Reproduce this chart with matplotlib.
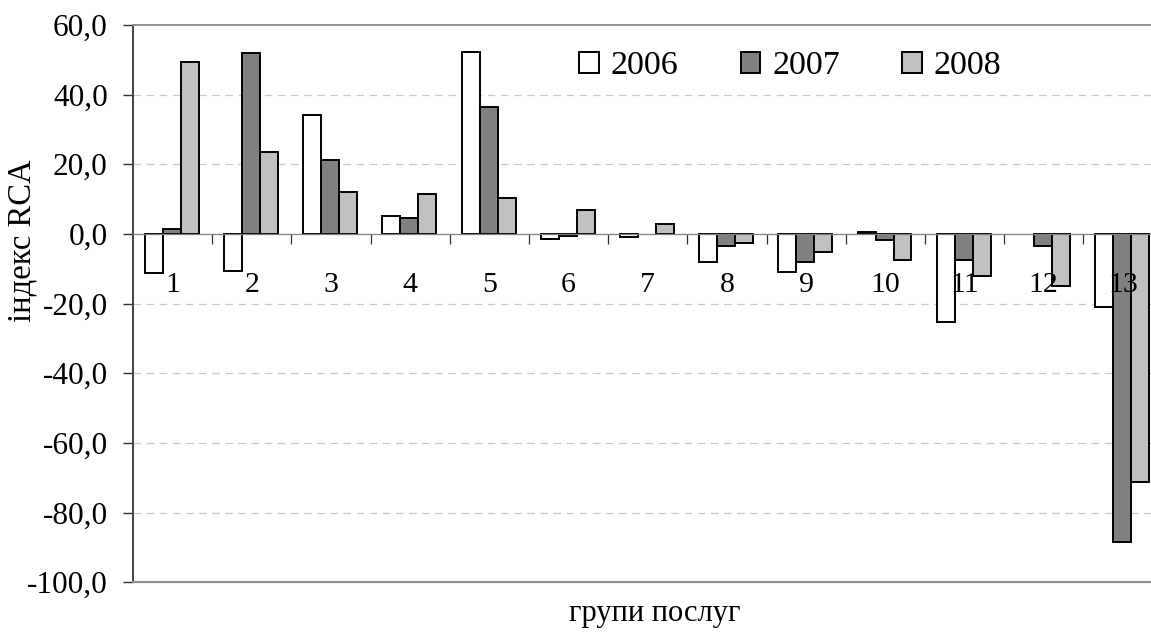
import matplotlib
matplotlib.use("Agg")
import matplotlib.pyplot as plt
import numpy as np

# дані з діаграми (індекс RCA за групами послуг); nan = немає стовпця
groups = ["1", "2", "3", "4", "5", "6", "7", "8", "9", "10", "11", "12", "13"]
years = ["2006", "2007", "2008"]
rca_2006 = [-11.2, -10.7, 34.2, 5.2, 52.3, -1.5, -1.0, -8.0, -10.8, 0.6, -25.4, np.nan, -20.9]
rca_2007 = [1.4, 51.9, 21.2, 4.6, 36.5, -0.5, np.nan, -3.4, -7.9, -1.7, -7.5, -3.4, -88.4]
rca_2008 = [49.4, 23.4, 12.1, 11.5, 10.3, 7.0, 3.0, -2.7, -5.1, -7.5, -12.0, -14.9, -71.3]
yticks = [-100, -80, -60, -40, -20, 0, 20, 40, 60]
ytick_labels = ["-100,0", "-80,0", "-60,0", "-40,0", "-20,0", "0,0", "20,0", "40,0", "60,0"]

plt.rcParams["font.family"] = ["Liberation Serif", "DejaVu Serif"]

fig = plt.figure(figsize=(11.51, 6.32), dpi=100)
W, H = 1151, 632
x0, x1 = 133.1, 133.1 + 13 * 79.18
y_top, y_bot = 25, 582.3
ax = fig.add_axes([x0 / W, 1 - y_bot / H, (x1 - x0) / W, (y_bot - y_top) / H])

x = np.arange(1, len(groups) + 1) - 0.01
w = 0.227
colors = ["white", "#808080", "#c0c0c0"]
for k, (vals, c) in enumerate(zip([rca_2006, rca_2007, rca_2008], colors)):
    ax.bar(x + (k - 1) * w, vals, w, color=c, edgecolor="black", linewidth=1.4,
           label=years[k], zorder=2)

ax.set_xlim(0.5, 13.5)
ax.set_ylim(-100, 60)
ax.set_yticks(yticks)
ax.set_yticklabels(ytick_labels, fontsize=22.5)
ax.tick_params(axis="y", direction="out", length=7.2, width=1.0, color="#303030", pad=11)

# сітка
for v in [-80, -60, -40, -20, 20, 40]:
    ax.axhline(v, color="#c8c8c8", lw=0.9, dashes=(6, 4.5), zorder=0)

# вісь X на нулі
ax.spines["bottom"].set_position(("data", 0))
ax.spines["bottom"].set_color("#808080")
ax.spines["bottom"].set_linewidth(0.9)
ax.set_xticks(np.arange(1.5, 13.5, 1))
ax.set_xticklabels([])
ax.tick_params(axis="x", direction="out", length=7.2, width=0.9, color="#303030")
ax.spines["left"].set_color("#404040")
ax.spines["left"].set_linewidth(1.4)
ax.spines["top"].set_color("#909090")
ax.spines["top"].set_linewidth(1.4)
ax.spines["right"].set_visible(False)
ax.axhline(-100, color="#909090", lw=1.6, clip_on=False, zorder=3)

for i, g in enumerate(groups):
    ax.annotate(g, xy=(i + 1, 0), xytext=(0, -41.5), textcoords="offset points",
                ha="center", va="baseline", fontsize=21.5, zorder=5)

ax.set_ylabel("індекс RCA", fontsize=23.5, va="center")
ax.yaxis.set_label_coords((22 - x0) / (x1 - x0), (y_bot - 241) / (y_bot - y_top))
ax.set_xlabel("групи послуг", fontsize=22, va="center")
ax.xaxis.set_label_coords((655 - x0) / (x1 - x0), (y_bot - 614) / (y_bot - y_top))

leg = ax.legend(loc="center left", bbox_to_anchor=(579 / W, 1 - 66 / H),
                bbox_transform=fig.transFigure, ncol=3, frameon=False, fontsize=24.5,
                handlelength=0.58, handleheight=0.58, handletextpad=0.35,
                columnspacing=1.83, borderpad=0, borderaxespad=0)

fig.savefig("out.png", dpi=100)
